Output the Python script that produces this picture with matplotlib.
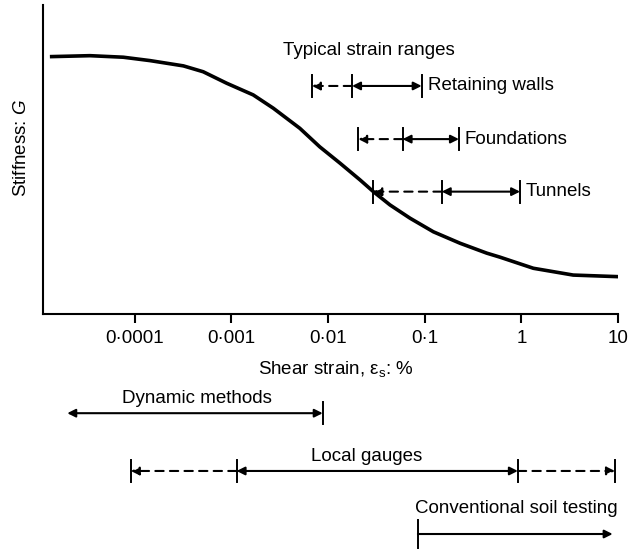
import numpy as np
import matplotlib
matplotlib.use("Agg")
import matplotlib.pyplot as plt
import matplotlib.transforms as mtransforms

plt.rcParams['font.family'] = ['Liberation Sans', 'DejaVu Sans']
plt.rcParams['mathtext.fontset'] = 'custom'
plt.rcParams['mathtext.rm'] = 'Liberation Sans'
plt.rcParams['mathtext.it'] = 'Liberation Sans:italic'

FS = 13.5

# stiffness degradation curve (strain in %, stiffness relative to axis height)
strain = [1.38e-5, 3.43e-5, 7.6e-5, 1.44e-4, 3.18e-4, 5.1e-4, 8.9e-4, 1.68e-3,
          2.71e-3, 5.1e-3, 8.2e-3, 0.0133, 0.0214, 0.0294, 0.0437, 0.0705,
          0.123, 0.232, 0.438, 0.60, 1.33, 3.44, 9.7]
stiffness = [0.833, 0.836, 0.831, 0.820, 0.803, 0.784, 0.747, 0.709,
             0.666, 0.601, 0.541, 0.488, 0.434, 0.396, 0.353, 0.310,
             0.266, 0.229, 0.197, 0.184, 0.148, 0.126, 0.121]

tick_values = [1e-4, 1e-3, 1e-2, 1e-1, 1, 10]
tick_labels = ['0·0001', '0·001', '0·01', '0·1', '1', '10']

# typical strain ranges: dashed start, solid start, solid end, row height
ranges_names = ['Retaining walls', 'Foundations', 'Tunnels']
ranges_lo = [0.0068, 0.0205, 0.0294]
ranges_mid = [0.0177, 0.059, 0.15]
ranges_hi = [0.093, 0.226, 0.97]
ranges_y = [0.738, 0.566, 0.396]

# measuring methods below the axis
dynamic_range = [2.0e-5, 0.0088]
local_range = [9.1e-5, 0.00113, 0.92, 9.3]
conventional_range = [0.085, 8.8]

fig = plt.figure(figsize=(6.3, 5.49), dpi=100)
ax = fig.add_axes([43 / 630, 1 - 314 / 549, 575 / 630, 309 / 549])

ax.plot(strain, stiffness, color='black', lw=2.6, solid_joinstyle='round')
ax.set_xscale('log')
ax.set_xlim(10 ** -4.95, 10)
ax.set_ylim(0, 1)

ax.set_xticks(tick_values)
ax.set_xticklabels(tick_labels)
ax.xaxis.set_minor_locator(matplotlib.ticker.NullLocator())
ax.set_yticks([])
ax.tick_params(axis='x', direction='out', length=6.5, width=1.5, pad=5, labelsize=FS)
for s in ['top', 'right']:
    ax.spines[s].set_visible(False)
for s in ['left', 'bottom']:
    ax.spines[s].set_linewidth(1.5)

ax.set_xlabel(r'Shear strain, ε$_\mathregular{s}$: %', fontsize=FS, va='center')
ax.xaxis.set_label_coords(0.51, -0.178)
ax.set_ylabel(r'Stiffness: $G$', fontsize=FS, va='center')
ax.yaxis.set_label_coords(-0.037, 0.537)

trans = mtransforms.blended_transform_factory(ax.transData, ax.transAxes)


def bar(x, y, h=0.036):
    ax.plot([x, x], [y - h, y + h], color='black', lw=1.4, transform=trans, clip_on=False)


def arrow(x0, x1, y, style, dashed=False):
    ax.annotate('', xy=(x1, y), xytext=(x0, y), xycoords=trans, textcoords=trans,
                annotation_clip=False,
                arrowprops=dict(arrowstyle=style, color='black', lw=1.5,
                                linestyle=(0, (4, 3)) if dashed else '-',
                                mutation_scale=12, shrinkA=0, shrinkB=0))


ax.text(0.0034, 0.854, 'Typical strain ranges', transform=trans, fontsize=FS,
        ha='left', va='center')
for name, lo, mid, hi, y in zip(ranges_names, ranges_lo, ranges_mid, ranges_hi, ranges_y):
    arrow(mid, lo, y, '-|>', dashed=True)
    arrow(mid, hi, y, '<|-|>')
    for x in (lo, mid, hi):
        bar(x, y)
    ax.text(hi * 1.15, y, name, transform=trans, fontsize=FS, ha='left', va='center')

# Dynamic methods
arrow(dynamic_range[0], dynamic_range[1], -0.321, '<|-|>')
bar(dynamic_range[1], -0.321)
ax.text(4.4e-4, -0.272, 'Dynamic methods', transform=trans, fontsize=FS,
        ha='center', va='center')

# Local gauges
yl = -0.508
arrow(local_range[1], local_range[0], yl, '-|>', dashed=True)
arrow(local_range[1], local_range[2], yl, '<|-|>')
arrow(local_range[2], local_range[3], yl, '-|>', dashed=True)
for x in local_range:
    bar(x, yl)
ax.text(0.025, -0.462, 'Local gauges', transform=trans, fontsize=FS,
        ha='center', va='center')

# Conventional soil testing
arrow(conventional_range[0], conventional_range[1], -0.712, '-|>')
bar(conventional_range[0], -0.712, h=0.045)
ax.text(9.9, -0.631, 'Conventional soil testing', transform=trans, fontsize=FS,
        ha='right', va='center')

fig.savefig('out.png', dpi=100)
